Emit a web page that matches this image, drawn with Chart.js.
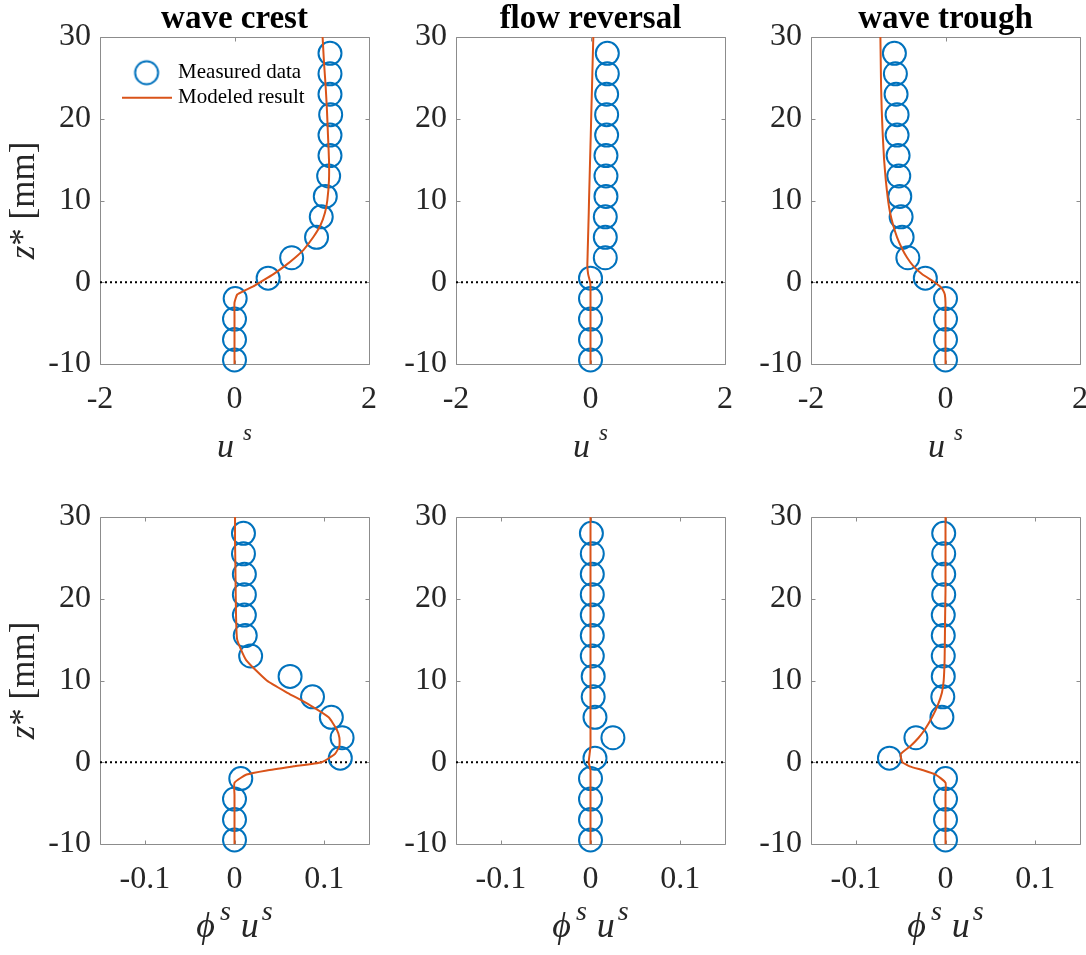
<!DOCTYPE html>
<html>
<head>
<meta charset="utf-8">
<title>Sediment velocity and flux profiles</title>
<script src="https://cdn.jsdelivr.net/npm/chart.js@4.4.1/dist/chart.umd.min.js"></script>
<style>
  html, body { margin: 0; padding: 0; background: #fff; }
  body { position: relative; width: 1086px; height: 955px; overflow: hidden; }
  canvas { position: absolute; }
</style>
</head>
<body>
<canvas id="p1"></canvas>
<canvas id="p2"></canvas>
<canvas id="p3"></canvas>
<canvas id="p4"></canvas>
<canvas id="p5"></canvas>
<canvas id="p6"></canvas>
<script>
// measured levels z* [mm] (same for every panel)
const zMeasured = [28, 25.5, 23, 20.5, 18, 15.5, 13, 10.5, 8, 5.5, 3, 0.5, -2, -4.5, -7, -9.5];

// measured u^s
const crestUs   = [1.42, 1.42, 1.42, 1.43, 1.42, 1.42, 1.40, 1.35, 1.29, 1.22, 0.85, 0.50, 0.01, 0, 0, 0];
const flowUs    = [0.25, 0.25, 0.24, 0.24, 0.24, 0.23, 0.23, 0.23, 0.22, 0.22, 0.22, 0.00, 0, 0, 0, 0];
const troughUs  = [-0.76, -0.745, -0.735, -0.72, -0.72, -0.705, -0.695, -0.68, -0.66, -0.645, -0.56, -0.30, 0, 0, 0, 0];

// measured phi^s u^s
const crestFlux  = [0.010, 0.010, 0.011, 0.011, 0.011, 0.012, 0.018, 0.062, 0.087, 0.108, 0.120, 0.118, 0.007, 0, 0, 0];
const flowFlux   = [0.001, 0.002, 0.002, 0.002, 0.002, 0.002, 0.002, 0.003, 0.003, 0.005, 0.025, 0.005, 0, 0, 0, 0];
const troughFlux = [-0.002, -0.002, -0.002, -0.002, -0.0025, -0.0025, -0.0025, -0.0025, -0.003, -0.004, -0.033, -0.0625, 0, 0, 0, 0];

// modeled profiles
const zModel = [30, 27, 24, 21, 18, 15, 12.5, 10, 8.5, 7, 5.5, 4, 3, 2, 1, 0, -0.5, -1, -1.5, -2.5, -4, -10];
const crestUsModel   = [1.31, 1.33, 1.355, 1.375, 1.39, 1.405, 1.405, 1.38, 1.345, 1.28, 1.17, 1.03, 0.90, 0.75, 0.58, 0.38, 0.28, 0.155, 0.04, 0, 0, 0];
const flowUsModel    = [0.042, 0.032, 0.023, 0.013, 0.004, -0.006, -0.014, -0.022, -0.026, -0.031, -0.036, -0.041, -0.044, -0.047, -0.035, -0.005, 0, 0, 0, 0, 0, 0];
const troughUsModel  = [-0.968, -0.963, -0.958, -0.948, -0.933, -0.913, -0.888, -0.854, -0.824, -0.779, -0.72, -0.64, -0.57, -0.48, -0.35, -0.164, -0.084, -0.035, -0.01, 0, 0, 0];
const crestFluxModel  = [0.0006, 0.0006, 0.001, 0.0013, 0.0017, 0.003, 0.013, 0.036, 0.059, 0.084, 0.105, 0.114, 0.117, 0.117, 0.112, 0.097, 0.066, 0.036, 0.0135, 0, 0, 0];
const flowFluxModel   = [0, 0, 0, 0, 0, 0, 0, 0, 0, 0, 0, 0, 0, 0, -0.001, -0.002, -0.001, 0, 0, 0, 0, 0];
const troughFluxModel = [0, 0, 0, 0, -0.0004, -0.0007, -0.001, -0.002, -0.004, -0.0086, -0.015, -0.023, -0.030, -0.039, -0.050, -0.048, -0.040, -0.024, -0.011, 0, 0, 0];

const phases = ['wave crest', 'flow reversal', 'wave trough'];
const zTicks = [-10, 0, 10, 20, 30];
const usTicks = [-2, 0, 2];
const fluxTicks = [-0.1, 0, 0.1];

const BLUE = '#0072BD';
const ORANGE = '#D95319';
const INK = '#262626';
const FRAME = '#8c8c8c';
const SERIF = '"Liberation Serif", "Times New Roman", serif';

// plot-area frames in page pixels
const colLeft = [100, 456, 811];
const colRight = [369, 725, 1080];
const rowTop = [37, 517];
const rowBottom = [364, 844];
const cellX = [0, 375, 730];
const cellY = [0, 477];
const cellH = [477, 478];
const X_AXIS_H = 60;

const usLabel = [
  { text: 'u', size: 34, italic: true },
  { text: 's', size: 23, italic: true, rise: 17, gap: 9 }
];
const fluxLabel = [
  { text: 'ϕ', size: 36, italic: true },
  { text: 's', size: 28, italic: true, rise: 17, gap: 5 },
  { text: 'u', size: 36, italic: true, gap: 10 },
  { text: 's', size: 28, italic: true, rise: 17, gap: 3 }
];
const zLabel = [
  { text: 'z', size: 35, italic: true },
  { text: '* [mm]', size: 35 }
];

function runFont(r) {
  return (r.italic ? 'italic ' : '') + r.size + 'px ' + SERIF;
}

function drawRuns(ctx, runs, cx, baseY) {
  let total = 0;
  runs.forEach(r => {
    ctx.font = runFont(r);
    r.w = ctx.measureText(r.text).width;
    total += (r.gap || 0) + r.w;
  });
  let x = cx - total / 2;
  runs.forEach(r => {
    x += r.gap || 0;
    ctx.font = runFont(r);
    ctx.fillText(r.text, x, baseY - (r.rise || 0));
    x += r.w;
  });
}

// MATLAB-like box with inward ticks on all four sides
const framePlugin = {
  id: 'frame',
  beforeDatasetsDraw(chart) {
    const { ctx, chartArea: a, scales: { x, y } } = chart;
    const l = a.left + 0.5, r = a.right + 0.5, t = a.top + 0.5, b = a.bottom + 0.5;
    const tl = 4;
    ctx.save();
    ctx.strokeStyle = FRAME;
    ctx.lineWidth = 1;
    ctx.beginPath();
    ctx.rect(l, t, r - l, b - t);
    x.ticks.forEach(tk => {
      const px = Math.round(x.getPixelForValue(tk.value)) + 0.5;
      ctx.moveTo(px, b); ctx.lineTo(px, b - tl);
      ctx.moveTo(px, t); ctx.lineTo(px, t + tl);
    });
    y.ticks.forEach(tk => {
      const py = Math.round(y.getPixelForValue(tk.value)) + 0.5;
      ctx.moveTo(l, py); ctx.lineTo(l + tl, py);
      ctx.moveTo(r, py); ctx.lineTo(r - tl, py);
    });
    ctx.stroke();
    ctx.restore();
  }
};

// axis titles with italics and superscripts
const axisTextPlugin = {
  id: 'axisText',
  afterDraw(chart, args, opts) {
    const { ctx, chartArea: a } = chart;
    ctx.save();
    ctx.fillStyle = INK;
    ctx.textAlign = 'left';
    ctx.textBaseline = 'alphabetic';
    drawRuns(ctx, opts.xRuns, (a.left + a.right) / 2, a.bottom + 93);
    if (opts.yRuns) {
      ctx.translate(opts.yBase, (a.top + a.bottom) / 2);
      ctx.rotate(-Math.PI / 2);
      drawRuns(ctx, opts.yRuns, 0, 0);
    }
    ctx.restore();
  }
};

// put the legend inside the axes, top-left
const legendSpotPlugin = {
  id: 'legendSpot',
  afterLayout(chart) {
    const lg = chart.legend;
    if (!lg) return;
    lg.left = 121.6;
    lg.top = 58.2;
    lg.right = lg.left + lg.width;
    lg.bottom = lg.top + lg.height;
  }
};

function sample(w, h, draw) {
  const c = document.createElement('canvas');
  c.width = w; c.height = h;
  draw(c.getContext('2d'));
  return c;
}
const circleSample = sample(28, 28, g => {
  g.strokeStyle = BLUE; g.lineWidth = 2;
  g.beginPath(); g.arc(14, 14, 11.5, 0, Math.PI * 2); g.stroke();
});
const lineSample = sample(50, 4, g => {
  g.strokeStyle = ORANGE; g.lineWidth = 2;
  g.beginPath(); g.moveTo(0, 2); g.lineTo(50, 2); g.stroke();
});

const panels = [
  { id: 'p1', row: 0, col: 0, meas: crestUs,    model: crestUsModel,    xr: [-2, 2],       ticks: usTicks,   xRuns: usLabel,   legend: true },
  { id: 'p2', row: 0, col: 1, meas: flowUs,     model: flowUsModel,     xr: [-2, 2],       ticks: usTicks,   xRuns: usLabel },
  { id: 'p3', row: 0, col: 2, meas: troughUs,   model: troughUsModel,   xr: [-2, 2],       ticks: usTicks,   xRuns: usLabel },
  { id: 'p4', row: 1, col: 0, meas: crestFlux,  model: crestFluxModel,  xr: [-0.15, 0.15], ticks: fluxTicks, xRuns: fluxLabel },
  { id: 'p5', row: 1, col: 1, meas: flowFlux,   model: flowFluxModel,   xr: [-0.15, 0.15], ticks: fluxTicks, xRuns: fluxLabel },
  { id: 'p6', row: 1, col: 2, meas: troughFlux, model: troughFluxModel, xr: [-0.15, 0.15], ticks: fluxTicks, xRuns: fluxLabel }
];

panels.forEach(p => {
  const canvas = document.getElementById(p.id);
  const left = cellX[p.col], top = cellY[p.row];
  const width = colRight[p.col] + 30 - left, height = cellH[p.row];
  canvas.width = width; canvas.height = height;
  canvas.style.left = left + 'px'; canvas.style.top = top + 'px';
  canvas.style.width = width + 'px'; canvas.style.height = height + 'px';
  const titled = p.row === 0;
  const tickFont = { family: SERIF, size: 32 };

  const plugins = [framePlugin, axisTextPlugin];
  if (p.legend) plugins.push(legendSpotPlugin);

  new Chart(canvas, {
    type: 'scatter',
    data: {
      datasets: [
        {
          label: 'Measured data',
          data: zMeasured.map((z, i) => ({ x: p.meas[i], y: z })),
          pointRadius: 11.5,
          pointHoverRadius: 11.5,
          pointBorderWidth: 2,
          borderColor: BLUE,
          backgroundColor: 'rgba(0,0,0,0)',
          showLine: false,
          clip: false,
          order: 1
        },
        {
          type: 'line',
          label: 'Modeled result',
          data: zModel.map((z, i) => ({ x: p.model[i], y: z })),
          borderColor: ORANGE,
          borderWidth: 2,
          pointRadius: 0,
          tension: 0.15,
          order: 0
        },
        {
          type: 'line',
          label: 'z* = 0',
          data: [{ x: p.xr[0], y: 0 }, { x: p.xr[1], y: 0 }],
          borderColor: '#000',
          borderWidth: 2,
          borderDash: [2, 3],
          pointRadius: 0,
          order: 2
        }
      ]
    },
    options: {
      responsive: false,
      animation: false,
      devicePixelRatio: 1,
      events: [],
      layout: {
        padding: {
          left: 0,
          right: 30,
          top: titled ? 0 : rowTop[p.row] - top,
          bottom: top + height - rowBottom[p.row] - X_AXIS_H
        }
      },
      scales: {
        x: {
          type: 'linear',
          min: p.xr[0],
          max: p.xr[1],
          afterBuildTicks: s => { s.ticks = p.ticks.map(v => ({ value: v })); },
          afterFit: s => { s.height = X_AXIS_H; },
          grid: { display: false, drawTicks: false },
          border: { display: false },
          ticks: { color: INK, font: tickFont, padding: 16, maxRotation: 0, autoSkip: false, callback: v => String(v) }
        },
        y: {
          type: 'linear',
          min: -10,
          max: 30,
          afterBuildTicks: s => { s.ticks = zTicks.map(v => ({ value: v })); },
          afterFit: s => { s.width = colLeft[p.col] - left; },
          grid: { display: false, drawTicks: false },
          border: { display: false },
          ticks: { color: INK, font: tickFont, padding: 9, autoSkip: false, callback: v => String(v) }
        }
      },
      plugins: {
        title: titled ? {
          display: true,
          text: phases[p.col],
          fullSize: false,
          color: '#000',
          font: { family: SERIF, size: 33, weight: 'bold', lineHeight: 1 },
          padding: { top: 3, bottom: 1 }
        } : { display: false },
        legend: p.legend ? {
          display: true,
          position: 'chartArea',
          align: 'start',
          labels: {
            usePointStyle: true,
            pointStyleWidth: 42,
            boxHeight: 21,
            padding: 4,
            color: '#000',
            font: { family: SERIF, size: 21 },
            generateLabels: () => [
              { text: 'Measured data', pointStyle: circleSample, fillStyle: 'rgba(0,0,0,0)', strokeStyle: BLUE, lineWidth: 0, hidden: false, datasetIndex: 0 },
              { text: 'Modeled result', pointStyle: lineSample, fillStyle: 'rgba(0,0,0,0)', strokeStyle: ORANGE, lineWidth: 0, hidden: false, datasetIndex: 1 }
            ]
          }
        } : { display: false },
        tooltip: { enabled: false },
        axisText: { xRuns: p.xRuns, yRuns: p.col === 0 ? zLabel : null, yBase: 34 }
      }
    },
    plugins: plugins
  });
});
</script>
</body>
</html>
